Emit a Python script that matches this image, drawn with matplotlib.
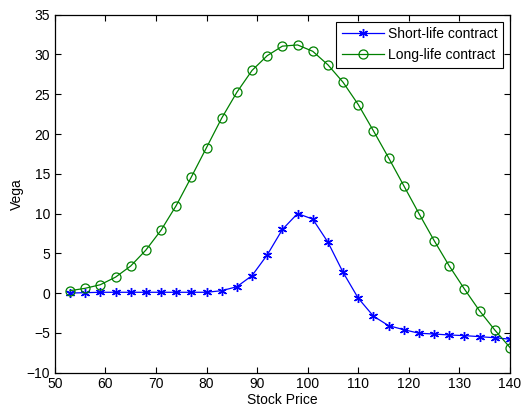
import numpy as np
import matplotlib
matplotlib.use('Agg')
import matplotlib.pyplot as plt

plt.rcParams['font.family'] = ['Liberation Sans', 'DejaVu Sans']

stock_price = [53, 56, 59, 62, 65, 68, 71, 74, 77, 80, 83, 86, 89, 92, 95,
               98, 101, 104, 107, 110, 113, 116, 119, 122, 125, 128, 131, 134, 137, 140]
short_life = [0.0, 0.05, 0.1, 0.1, 0.1, 0.1, 0.1, 0.1, 0.1, 0.1, 0.3, 0.8, 2.2, 4.8, 8.0,
              10.0, 9.3, 6.4, 2.6, -0.65, -2.9, -4.1, -4.6, -5.05, -5.15, -5.27, -5.35, -5.48, -5.62, -5.8]
long_life = [0.3, 0.6, 1.05, 2.0, 3.4, 5.4, 7.9, 11.0, 14.6, 18.3, 22.0, 25.25, 28.0, 29.85, 31.05,
             31.2, 30.4, 28.7, 26.5, 23.7, 20.4, 17.0, 13.5, 10.0, 6.6, 3.4, 0.5, -2.25, -4.65, -6.85]

fig = plt.figure(figsize=(5.22, 4.09), dpi=100)
ax = fig.add_axes([0.105, 0.089, 0.872, 0.875])

ax.plot(stock_price, short_life, '-', color='blue', marker=(6, 2, 0), markersize=6.5,
        markeredgewidth=1.0, linewidth=0.9, label='Short-life contract')
ax.plot(stock_price, long_life, '-', color=(0, 0.5, 0), marker='o', markersize=6.5,
        markerfacecolor='none', markeredgewidth=0.9, linewidth=0.9, label='Long-life contract')

ax.set_xlim(50, 140)
ax.set_ylim(-10, 35)
ax.set_xticks(np.arange(50, 141, 10))
ax.set_yticks(np.arange(-10, 36, 5))
ax.tick_params(direction='in', top=True, right=True, labelsize=10, length=4)
ax.set_xlabel('Stock Price', fontsize=10, labelpad=1)
ax.set_ylabel('Vega', fontsize=10, labelpad=2)
for s in ax.spines.values():
    s.set_linewidth(0.9)

leg = ax.legend(loc='upper right', fancybox=False, edgecolor='black', framealpha=1,
                fontsize=10, borderaxespad=0.5, handlelength=3.0, handletextpad=0.3,
                labelspacing=0.5)
leg.get_frame().set_linewidth(0.8)

fig.savefig('out.png', dpi=100)
